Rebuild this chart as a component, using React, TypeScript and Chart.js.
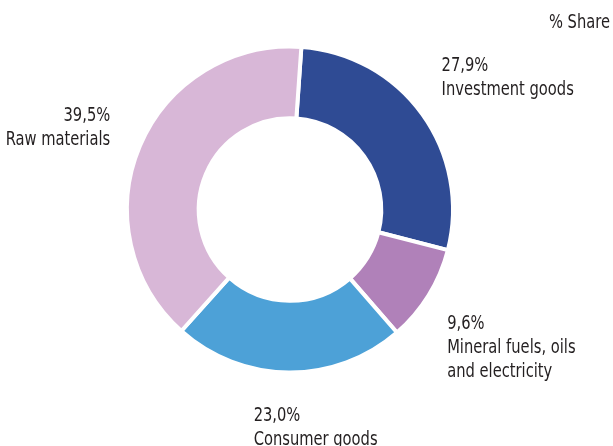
import React, { useEffect, useRef } from "react";
import { Chart, registerables } from "chart.js";

Chart.register(...registerables);

const categories = ["Investment goods", "Mineral fuels, oils|and electricity", "Consumer goods", "Raw materials"];
const shares = [27.9, 9.6, 23.0, 39.5];
const shareLabels = ["27,9%", "9,6%", "23,0%", "39,5%"];
const colors = ["#2F4B94", "#B081B9", "#4DA1D7", "#D8B7D7"];
const unitTitle = "% Share";

const FONT = '"DejaVu Sans Condensed", "Liberation Sans Narrow", sans-serif';
const FONT_SIZE = 19;
const LINE_H = 24;
const X_SCALE = 0.86;
const TEXT_COLOR = "#231F20";

// label placement style per slice: offsets from anchor, alignment
const labelLayout = [
  { dx: -5, dy: 5, align: "left", v: "bottom" },
  { dx: -7, dy: 1, align: "left", v: "top" },
  { dx: -35, dy: 2, align: "left", v: "top" },
  { dx: -2, dy: -6, align: "right", v: "middle" },
];

function drawText(ctx: any, t: string, x: number, y: number, align: string) {
  ctx.save();
  ctx.translate(x, y);
  ctx.scale(X_SCALE, 1);
  ctx.textAlign = align;
  ctx.fillText(t, 0, 0);
  ctx.restore();
}

const labelPlugin = {
  id: "sliceLabels",
  afterDraw(chart: any) {
    const ctx = chart.ctx;
    const meta = chart.getDatasetMeta(0);
    ctx.save();
    ctx.font = `${FONT_SIZE}px ${FONT}`;
    ctx.fillStyle = TEXT_COLOR;
    ctx.textBaseline = "alphabetic";
    meta.data.forEach((arc: any, i: number) => {
      const mid = (arc.startAngle + arc.endAngle) / 2;
      const r = arc.outerRadius + 30;
      const ax = arc.x + Math.cos(mid) * r;
      const ay = arc.y + Math.sin(mid) * r;
      const lines = [shareLabels[i], ...categories[i].split("|")];
      const lay = labelLayout[i];
      const blockH = lines.length * LINE_H;
      let top = ay + lay.dy;
      if (lay.v === "bottom") top = ay + lay.dy - blockH;
      else if (lay.v === "middle") top = ay + lay.dy - blockH / 2;
      lines.forEach((t, k) => {
        drawText(ctx, t, ax + lay.dx, top + k * LINE_H + 17, lay.align);
      });
    });
    drawText(ctx, unitTitle, 610, 28, "right");
    ctx.restore();
  },
};

export default function App() {
  const ref = useRef<HTMLCanvasElement>(null);
  useEffect(() => {
    document.body.style.margin = "0";
    const chart = new Chart(ref.current!, {
      type: "doughnut",
      data: {
        labels: categories.map((c) => c.replace("|", " ")),
        datasets: [
          {
            data: shares,
            backgroundColor: colors,
            borderColor: "#FFFFFF",
            borderWidth: 4,
          },
        ],
      },
      options: {
        animation: false,
        responsive: false,
        cutout: "56%",
        rotation: 4,
        layout: { padding: { left: 125, right: 158, top: 44, bottom: 71 } },
        plugins: { legend: { display: false }, tooltip: { enabled: false } },
      },
      plugins: [labelPlugin],
    });
    return () => chart.destroy();
  }, []);
  return (
    <div style={{ position: "fixed", left: 0, top: 0, width: 613, height: 446, background: "#fff" }}>
      <canvas ref={ref} width={613} height={446} />
    </div>
  );
}
